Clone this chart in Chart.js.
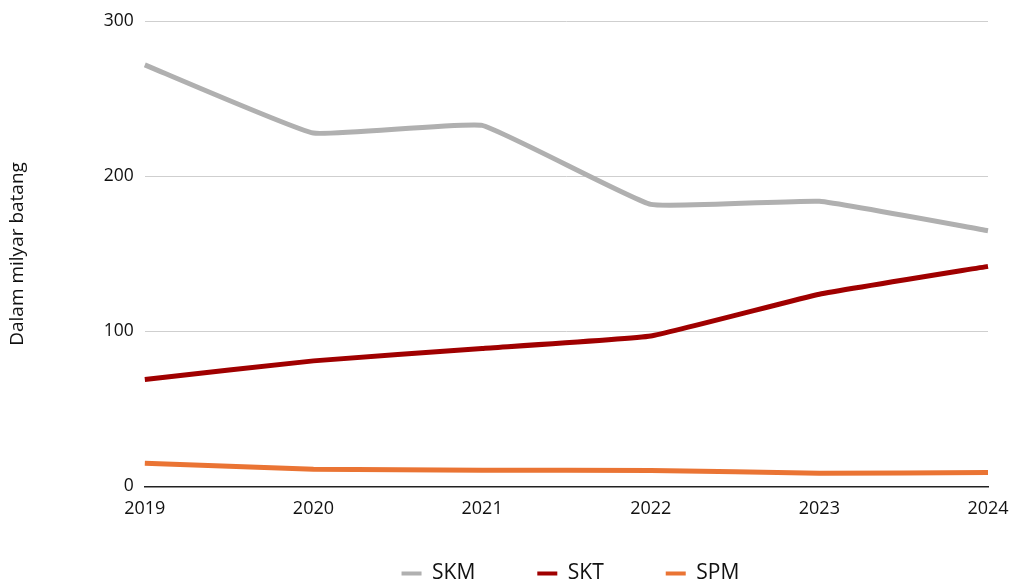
<!DOCTYPE html>
<html>
<head>
<meta charset="utf-8">
<script src="https://cdn.jsdelivr.net/npm/chart.js@4.4.0/dist/chart.umd.min.js"></script>
<style>
  html, body { margin: 0; padding: 0; background: #fff; }
  .chart-box { width: 1016px; height: 582px; position: relative; }
</style>
</head>
<body>
<div class="chart-box"><canvas id="myChart"></canvas></div>
<script>
// years on the x axis
let years = [`2019`, `2020`, `2021`, `2022`, `2023`, `2024`]
// values, milyar batang
let skm = [272, 228, 233, 182, 184, 165]
let skt = [69, 81, 89, 97, 124, 142]
let spm = [15, 11, 10.5, 10.3, 8.5, 9]
let yTicks = [0, 100, 200, 300]

Chart.defaults.font.family = `"Open Sans", "Noto Sans", sans-serif`
Chart.defaults.color = `#111`

// legend sits lower and is centred under the plot, not the canvas
const legendPlace = {
    id: `legendPlace`,
    beforeDraw(chart) {
        const lg = chart.legend
        const mid = (chart.chartArea.left + chart.chartArea.right) / 2 + 4
        const half = (lg.right - lg.left) / 2
        lg.left = mid - half
        lg.right = mid + half
        lg.top = 501
        lg.bottom = 582
        lg.height = 81
    }
}

function makeSet(label, values, color) {
    return {
        label: label,
        data: values,
        borderColor: color,
        backgroundColor: color,
        borderWidth: 5,
        tension: 0.1,
        pointRadius: 0,
        fill: false
    }
}

const ctx = document.getElementById('myChart');
const myChart = new Chart(ctx, {
    type: "line",
    data: {
        labels: years,
        datasets: [
            makeSet(`SKM`, skm, "#b0b0b0"),
            makeSet(`SKT`, skt, "#a00000"),
            makeSet(`SPM`, spm, "#ea7434")
        ]
    },
    plugins: [legendPlace],
    options: {
        responsive: true,
        maintainAspectRatio: false,
        animation: false,
        layout: { padding: { top: 11, right: 28, left: 0, bottom: 0 } },
        plugins: {
            legend: {
                position: `bottom`,
                maxHeight: 50,
                labels: {
                    boxWidth: 20,
                    boxHeight: 4,
                    padding: 62,
                    font: { size: 21 },
                    color: `#111`,
                    generateLabels: chart => Chart.defaults.plugins.legend.labels.generateLabels(chart).map(l => {
                        l.lineWidth = 0
                        return l
                    })
                }
            },
            tooltip: { enabled: false }
        },
        scales: {
            x: {
                offset: false,
                grid: { display: false, drawTicks: false },
                border: { color: `#222`, width: 1.5 },
                ticks: { font: { size: 18 }, padding: 12, maxRotation: 0 },
                afterFit: axis => { axis.paddingRight = 0 }
            },
            y: {
                min: 0,
                max: 300,
                afterBuildTicks: axis => { axis.ticks = yTicks.map(v => ({ value: v })) },
                grid: { color: `#cfcfcf`, drawTicks: false },
                border: { display: false },
                ticks: { font: { size: 17.5 }, padding: 11 },
                title: {
                    display: true,
                    text: `Dalam milyar batang`,
                    font: { size: 19 },
                    padding: { top: 6, bottom: 64 }
                }
            }
        }
    }
});
</script>
</body>
</html>
